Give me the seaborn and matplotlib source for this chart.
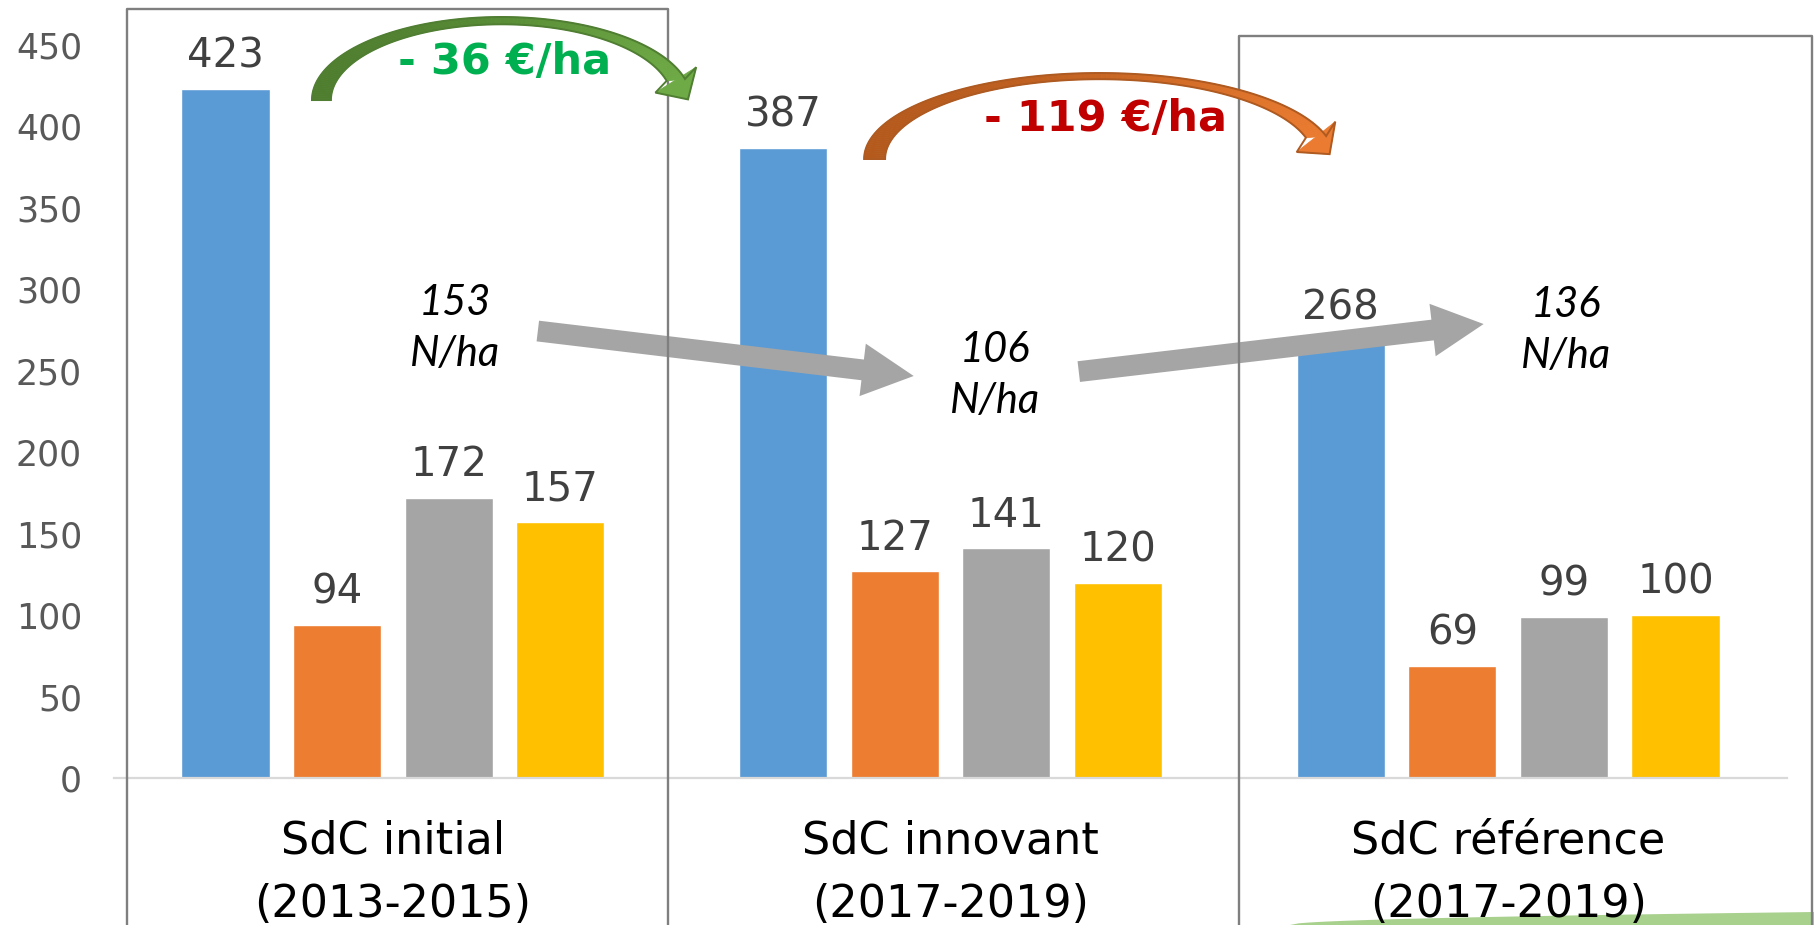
import numpy as np
import pandas as pd
import matplotlib
matplotlib.use("Agg")
import matplotlib.pyplot as plt
import seaborn as sns
from matplotlib.patches import Polygon, FancyArrowPatch
from matplotlib.colors import to_rgb
from matplotlib.transforms import IdentityTransform

# ---- data -------------------------------------------------------------
systemes = ["SdC initial\n(2013-2015)", "SdC innovant\n(2017-2019)", "SdC référence\n(2017-2019)"]
postes = ["Série 1", "Série 2", "Série 3", "Série 4"]
valeurs_serie1 = [423, 387, 268]
valeurs_serie2 = [94, 127, 69]
valeurs_serie3 = [172, 141, 99]
valeurs_serie4 = [157, 120, 100]
couleurs = ["#5B9BD5", "#ED7D31", "#A5A5A5", "#FFC000"]
graduations = list(range(0, 451, 50))
azote = ["153\nN/ha", "106\nN/ha", "136\nN/ha"]
ecarts = ["- 36 €/ha", "- 119 €/ha"]

df = pd.DataFrame({
    "Système": np.repeat(systemes, len(postes)),
    "Poste": postes * len(systemes),
    "Valeur": [v for grp in zip(valeurs_serie1, valeurs_serie2, valeurs_serie3, valeurs_serie4) for v in grp],
})

# ---- figure -------------------------------------------------------------
sns.set_theme(style="white")
plt.rcParams["font.family"] = ["DejaVu Sans"]

W, H = 1815, 925
fig = plt.figure(figsize=(W / 100, H / 100), dpi=100)
ax = fig.add_axes([114 / W, 1 - 778 / H, 1673 / W, 733 / H])

sns.barplot(data=df, x="Système", y="Valeur", hue="Poste", order=systemes,
            hue_order=postes, palette=couleurs, saturation=1, width=0.8,
            gap=0.21, legend=False, ax=ax, zorder=2)

ax.set_xlim(-0.5, 2.5)
ax.set_ylim(0, 450)
ax.set_yticks(graduations)
ax.set_xlabel("")
ax.set_ylabel("")
for side in ["left", "right", "top"]:
    ax.spines[side].set_visible(False)
ax.spines["bottom"].set_color("#D9D9D9")
ax.spines["bottom"].set_linewidth(1.6)
ax.tick_params(axis="y", length=0, pad=23, labelsize=25, labelcolor="#595959")
ax.tick_params(axis="x", length=0, pad=30, labelsize=32, labelcolor="black")
for lab in ax.get_xticklabels():
    lab.set_linespacing(1.6)
ax.grid(False)
ax.patch.set_alpha(0)

for cont in ax.containers:
    ax.bar_label(cont, fmt="%d", padding=9, fontsize=29, color="#404040")

# ---- frames around the first and last systems ---------------------------
def cadre(x0, x1, ytop):
    xs = [x0 / W, x0 / W, x1 / W, x1 / W]
    ys = [-0.05, 1 - ytop / H, 1 - ytop / H, -0.05]
    fig.add_artist(plt.Line2D(xs, ys, transform=fig.transFigure,
                              color="#7F7F7F", lw=1.7, zorder=1))

cadre(127, 668, 9)
cadre(1238.5, 1812, 36)

# light green sweep at the lower right corner
xs = np.linspace(1290, 1815, 60)
ys = 925 - 13 * np.sqrt((xs - 1290) / 525)
pts = [(x / W, 1 - y / H) for x, y in zip(xs, ys)] + [(1815 / W, 0), (1290 / W, 0)]
fig.add_artist(Polygon(pts, closed=True, transform=fig.transFigure,
                       facecolor="#A9D18E", edgecolor="none", zorder=0))

# ---- nitrogen balance labels and straight arrows -------------------------
pos_azote = [(0.111, 276), (1.08, 247), (2.103, 275)]
for txt, (xa, ya) in zip(azote, pos_azote):
    ax.text(xa, ya, txt, ha="center", va="center", fontsize=30, fontstyle="italic",
            fontfamily="Lato", color="black", linespacing=1.42, zorder=5)

fleches = [((0.260, 274.4), (0.934, 246.8)), ((1.230, 249.5), (1.956, 278.7))]
for (p0, p1) in fleches:
    ax.add_patch(FancyArrowPatch(p0, p1, arrowstyle="simple,head_length=37,head_width=38,tail_width=15",
                                 mutation_scale=1, shrinkA=0, shrinkB=0, color="#A5A5A5",
                                 lw=0, zorder=6, clip_on=False))

# ---- curved cost arrows -----------------------------------------------
def fleche_courbe(cx, cy, ao, ai, bo, bi, th_end, head_half, head_len, c_dark, c_light, edge):
    """Curved band along two half-ellipses, shaded from tail to head."""
    to_disp = ax.transData.transform
    n_seg = 120
    th = np.linspace(np.pi, np.radians(th_end), n_seg + 1)
    outer = to_disp(np.column_stack([cx + ao * np.cos(th), cy + bo * np.sin(th)]))
    inner = to_disp(np.column_stack([cx + ai * np.cos(th), cy + bi * np.sin(th)]))
    c0, c1 = np.array(to_rgb(c_dark)), np.array(to_rgb(c_light))

    # direction of travel at the end of the band -> head
    mid_end = (outer[-1] + inner[-1]) / 2
    d = mid_end - (outer[-2] + inner[-2]) / 2
    d = d / np.hypot(*d)
    n = np.array([-d[1], d[0]])
    h1, h2 = mid_end + n * head_half, mid_end - n * head_half
    if np.dot(h1 - mid_end, outer[-1] - mid_end) < 0:
        h1, h2 = h2, h1
    tip = mid_end + d * head_len

    # shading: colour follows the horizontal position
    xmin, xmax = outer[:, 0].min(), max(outer[:, 0].max(), h1[0], h2[0], tip[0])

    def col(x):
        t = np.clip((x - xmin) / (xmax - xmin), 0, 1) ** 1.6
        return tuple(c0 + (c1 - c0) * t)

    for i in range(n_seg):
        quad = np.array([outer[i], outer[i + 1], inner[i + 1], inner[i]])
        c = col(quad[:, 0].mean())
        fig.add_artist(Polygon(quad, closed=True, transform=IdentityTransform(),
                               facecolor=c, edgecolor=c, lw=0.6, zorder=7))
    head = np.array([h1, tip, h2])
    c = col(head[:, 0].mean())
    fig.add_artist(Polygon(head, closed=True, transform=IdentityTransform(),
                           facecolor=c, edgecolor=c, lw=0.6, zorder=7))

    contour = np.vstack([outer, [h1, tip, h2], inner[::-1]])
    fig.add_artist(Polygon(contour, closed=True, transform=IdentityTransform(),
                           facecolor="none", edgecolor=edge, lw=1.4, zorder=7.5))

fleche_courbe(0.195, 416.2, 0.340, 0.306, 51.0, 46.5, 14.7, 24, 23,
              "#4F7E2F", "#70AD47", "#507E32")
fleche_courbe(1.267, 380.0, 0.4219, 0.3843, 52.8, 49.0, 15.5, 24.5, 22,
              "#B55A1D", "#ED7D31", "#AE5A21")

ax.text(0.201, 439.5, ecarts[0], ha="center", va="center", fontsize=31, fontweight="bold",
        color="#00B050", zorder=8)
ax.text(1.278, 404.5, ecarts[1], ha="center", va="center", fontsize=31, fontweight="bold",
        color="#C00000", zorder=8)

fig.savefig("out.png", dpi=100)
